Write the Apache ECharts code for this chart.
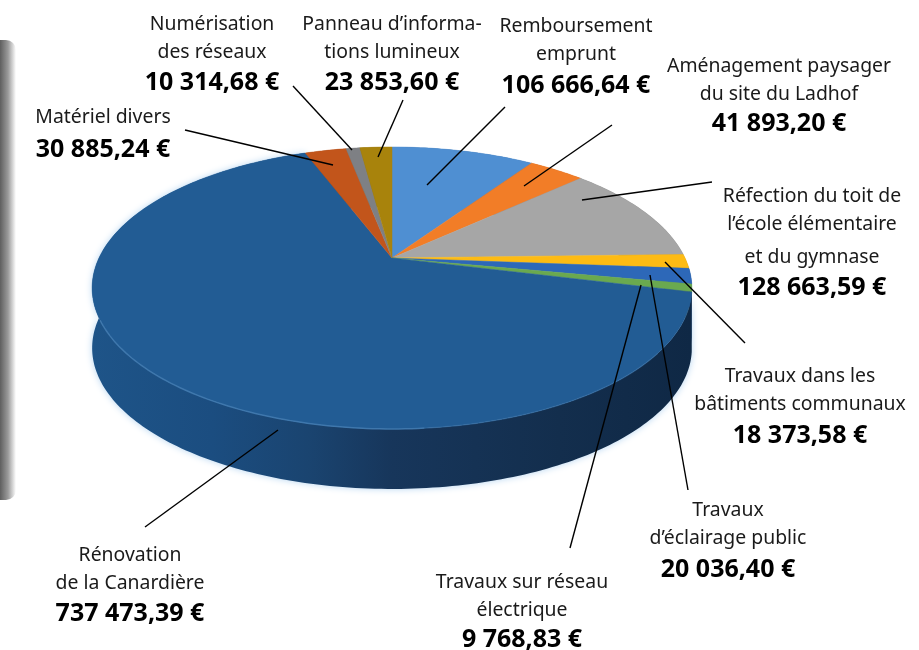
<!DOCTYPE html>
<html><head><meta charset="utf-8">
<script src="https://cdn.jsdelivr.net/npm/echarts@6/dist/echarts.min.js"></script>
<style>html,body{margin:0;padding:0;background:#fff}#c{width:919px;height:650px}</style>
</head><body><div id="c"></div>
<script>
// clockwise from 12 o'clock
const categories = ["Remboursement emprunt","Aménagement paysager du site du Ladhof","Réfection du toit de l’école élémentaire et du gymnase","Travaux dans les bâtiments communaux","Travaux d’éclairage public","Travaux sur réseau électrique","Rénovation de la Canardière","Matériel divers","Numérisation des réseaux","Panneau d’informations lumineux"];
const amounts = [106666.64,41893.20,128663.59,18373.58,20036.40,9768.83,737473.39,30885.24,10314.68,23853.60];
const topColors = ["#4f8fd2","#f27d27","#a6a6a6","#fdbb14","#2d68b8","#6aa94f","#225c94","#c2551b","#7e8084","#a8830c"];
const sideColors = ["#35659a","#b05a1c","#777","#b88a10","#20497f","#4a7a38","#1a4a7c","#8a3d14","#5a5c60","#786009"];

const total = amounts.reduce((a,b)=>a+b,0);
const FONT = '"Noto Sans", sans-serif';
const CX=392, AY=258, RU=293, RV=134.6, PERSP=0.2126, DEPTH=60;

function project(deg){
  const t=deg*Math.PI/180, u=Math.sin(t), v=Math.cos(t), w=1+PERSP*v;
  return [CX+RU*u/w, AY-RV*v/w];
}
function arcPoints(a0,a1){
  const n=Math.max(2,Math.ceil(Math.abs(a1-a0)));
  const out=[];
  for(let i=0;i<=n;i++) out.push(project(a0+(a1-a0)*i/n));
  return out;
}
function sweep(i){
  let s=0; for(let k=0;k<i;k++) s+=amounts[k];
  return [s/total*360,(s+amounts[i])/total*360];
}
function renderSide(params,api){
  const i=params.dataIndex;
  const [a0,a1]=sweep(i);
  const arc=arcPoints(a0,a1);
  const pts=arc.concat(arc.slice().reverse().map(p=>[p[0],p[1]+DEPTH]));
  const fill = i===6 ? new echarts.graphic.LinearGradient(0,0,1,0,[
      {offset:0,color:'#1e5488'},{offset:.2,color:'#1b4d80'},{offset:.36,color:'#1a4470'},{offset:.5,color:'#17365b'},{offset:.78,color:'#132e4d'},{offset:1,color:'#0f2845'}]) : sideColors[i];
  return {type:'polygon',shape:{points:pts},style:{fill:fill,shadowBlur:i===6?7:0,shadowColor:'rgba(150,195,235,.7)'},silent:true};
}
function renderTop(params,api){
  const i=params.dataIndex;
  const [a0,a1]=sweep(i);
  const arc=arcPoints(a0,a1);
  const pts=[[CX,AY]].concat(arc);
  const children=[{type:'polygon',shape:{points:pts},style:{fill:topColors[i],stroke:topColors[i],lineWidth:.5},silent:true}];
  if(i===6){
    children.push({type:'polyline',shape:{points:arcPoints(175,245)},style:{fill:null,stroke:'#4079ae',lineWidth:1.5,opacity:.9},silent:true});
    children.push({type:'polyline',shape:{points:arcPoints(128,175)},style:{fill:null,stroke:'#4079ae',lineWidth:1.5,opacity:.35},silent:true});
  }
  return {type:'group',children:children};
}

const labels = [
  {x:212,lines:[["Numérisation",24],["des réseaux",52]],value:["10 314,68 €",83]},
  {x:392,lines:[["Panneau d’informa-",24],["tions lumineux",52]],value:["23 853,60 €",83]},
  {x:576,lines:[["Remboursement",26],["emprunt",54]],value:["106 666,64 €",86]},
  {x:779,lines:[["Aménagement paysager",66],["du site du Ladhof",94]],value:["41 893,20 €",124]},
  {x:812,lines:[["Réfection du toit de",196],["l’école élémentaire",224],["et du gymnase",257]],value:["128 663,59 €",288]},
  {x:800,lines:[["Travaux dans les",376],["bâtiments communaux",404]],value:["18 373,58 €",436]},
  {x:728,lines:[["Travaux",510],["d’éclairage public",538]],value:["20 036,40 €",570]},
  {x:522,lines:[["Travaux sur réseau",582],["électrique",610]],value:["9 768,83 €",640]},
  {x:130,lines:[["Rénovation",555],["de la Canardière",583]],value:["737 473,39 €",614]},
  {x:103,lines:[["Matériel divers",117]],value:["30 885,24 €",150]}
];
const leaders = [
  [185,130,333,165],[293,86,352,150],[403,100,378,157],[505,107,427,185],
  [612,125,524,186],[712,182,582,200],[745,343,665,262],[688,490,650,275],
  [570,548,641,285],[145,527,278,430]
];

const graphics=[];
graphics.push({type:'rect',z:0,shape:{x:0,y:40,width:16,height:460,r:[0,10,10,0]},
  style:{fill:new echarts.graphic.LinearGradient(0,0,1,0,[{offset:0,color:'#5f5f5f'},{offset:.5,color:'#9a9a9a'},{offset:1,color:'#ffffff'}])},silent:true});
leaders.forEach(l=>graphics.push({type:'line',z:20,shape:{x1:l[0],y1:l[1],x2:l[2],y2:l[3]},style:{stroke:'#000',lineWidth:1.4},silent:true}));
labels.forEach(b=>{
  b.lines.forEach(([t,y])=>graphics.push({type:'text',z:20,x:b.x,y:y,style:{text:t,fill:'#1a1a1a',font:'19.4px '+FONT,align:'center',verticalAlign:'middle'},silent:true}));
  graphics.push({type:'text',z:20,x:b.x,y:b.value[1],style:{text:b.value[0],fill:'#000',font:'bold 25px '+FONT,align:'center',verticalAlign:'middle'},silent:true});
});

const chart=echarts.init(document.getElementById('c'),null,{renderer:'canvas'});
chart.setOption({
  animation:false,
  backgroundColor:'#fff',
  graphic:{elements:graphics},
  series:[
    {type:'custom',coordinateSystem:'none',z:2,silent:true,renderItem:renderSide,data:amounts.map((v,i)=>({name:categories[i],value:[v]}))},
    {type:'custom',coordinateSystem:'none',z:3,silent:true,renderItem:renderTop,data:amounts.map((v,i)=>({name:categories[i],value:[v]}))}
  ]
});
</script></body></html>
